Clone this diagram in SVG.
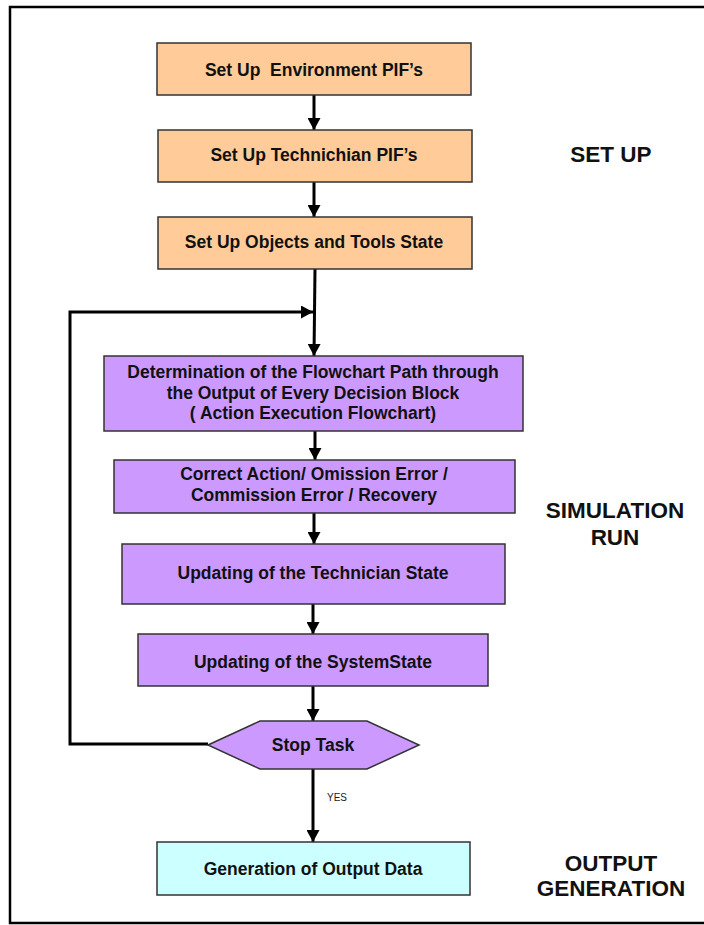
<svg xmlns="http://www.w3.org/2000/svg" width="704" height="925" viewBox="0 0 704 925">
  <style>
    .box { stroke: #333333; stroke-width: 1.5; }
    .setup { fill: #FFCC99; }
    .sim { fill: #CC99FF; }
    .out { fill: #CCFFFF; }
    .label { font-family: "Liberation Sans", Arial, sans-serif; font-weight: bold; font-size: 17.5px; fill: #111111; text-anchor: middle; white-space: pre; }
    .phase { font-family: "Liberation Sans", Arial, sans-serif; font-weight: bold; font-size: 22.5px; fill: #111111; text-anchor: middle; }
    .small { font-family: "Liberation Sans", Arial, sans-serif; font-size: 10px; fill: #222222; }
    .wire { fill: none; stroke: #000000; stroke-width: 3; }
  </style>
  <defs>
    <marker id="arrow" viewBox="0 0 12 13" refX="12" refY="6.5" markerWidth="12" markerHeight="13" markerUnits="userSpaceOnUse" orient="auto">
      <path d="M0,0 L12,6.5 L0,13 Z" fill="#000000"/>
    </marker>
  </defs>

  <rect width="704" height="925" fill="#ffffff"/>

  <!-- outer frame (right edge runs past the page) -->
  <path d="M706,7 H10 V923 H706" fill="none" stroke="#000000" stroke-width="2.5"/>

  <!-- connectors -->
  <g id="connectors">
    <line class="wire" x1="314" y1="95" x2="314" y2="130" marker-end="url(#arrow)"/>
    <line class="wire" x1="314" y1="182" x2="314" y2="217" marker-end="url(#arrow)"/>
    <line class="wire" x1="315" y1="269" x2="314" y2="356" marker-end="url(#arrow)"/>
    <polyline class="wire" points="208,744 70,744 70,312 313,312" marker-end="url(#arrow)"/>
    <line class="wire" x1="315" y1="431" x2="315" y2="460" marker-end="url(#arrow)"/>
    <line class="wire" x1="314" y1="513" x2="314" y2="544" marker-end="url(#arrow)"/>
    <line class="wire" x1="313" y1="604" x2="313" y2="634" marker-end="url(#arrow)"/>
    <line class="wire" x1="313" y1="686" x2="313" y2="721" marker-end="url(#arrow)"/>
    <line class="wire" x1="313" y1="769" x2="313" y2="842" marker-end="url(#arrow)"/>
    <text class="small" x="327" y="801">YES</text>
  </g>

  <!-- set up phase -->
  <g id="env-pif">
    <rect class="box setup" x="157" y="43" width="314" height="52"/>
    <text class="label" x="314" y="76" xml:space="preserve">Set Up  Environment PIF’s</text>
  </g>
  <g id="tech-pif">
    <rect class="box setup" x="158" y="130" width="314" height="52"/>
    <text class="label" x="314" y="161">Set Up Technichian PIF’s</text>
  </g>
  <g id="objects-tools">
    <rect class="box setup" x="158" y="217" width="314" height="52"/>
    <text class="label" x="314" y="248">Set Up Objects and Tools State</text>
  </g>

  <!-- simulation run phase -->
  <g id="flowchart-path">
    <rect class="box sim" x="104" y="356" width="419" height="75"/>
    <text class="label" x="313" y="378">Determination of the Flowchart Path through</text>
    <text class="label" x="313" y="399">the Output of Every Decision Block</text>
    <text class="label" x="313" y="419">( Action Execution Flowchart)</text>
  </g>
  <g id="action-outcome">
    <rect class="box sim" x="114" y="460" width="401" height="53"/>
    <text class="label" x="314" y="480">Correct Action/ Omission Error /</text>
    <text class="label" x="314" y="501">Commission Error / Recovery</text>
  </g>
  <g id="tech-state">
    <rect class="box sim" x="122" y="544" width="383" height="60"/>
    <text class="label" x="313" y="579">Updating of the Technician State</text>
  </g>
  <g id="system-state">
    <rect class="box sim" x="138" y="634" width="350" height="52"/>
    <text class="label" x="313" y="668">Updating of the SystemState</text>
  </g>
  <g id="stop-task">
    <polygon class="box sim" points="208,745 260,721 367,721 419,745 367,769 260,769"/>
    <text class="label" x="313" y="751">Stop Task</text>
  </g>

  <!-- output phase -->
  <g id="output-data">
    <rect class="box out" x="157" y="842" width="313" height="53"/>
    <text class="label" x="313" y="875">Generation of Output Data</text>
  </g>

  <!-- phase labels -->
  <g id="phase-labels">
    <text class="phase" x="611" y="162">SET UP</text>
    <text class="phase" x="615" y="518">SIMULATION</text>
    <text class="phase" x="615" y="545">RUN</text>
    <text class="phase" x="611" y="871">OUTPUT</text>
    <text class="phase" x="611" y="896">GENERATION</text>
  </g>
</svg>
